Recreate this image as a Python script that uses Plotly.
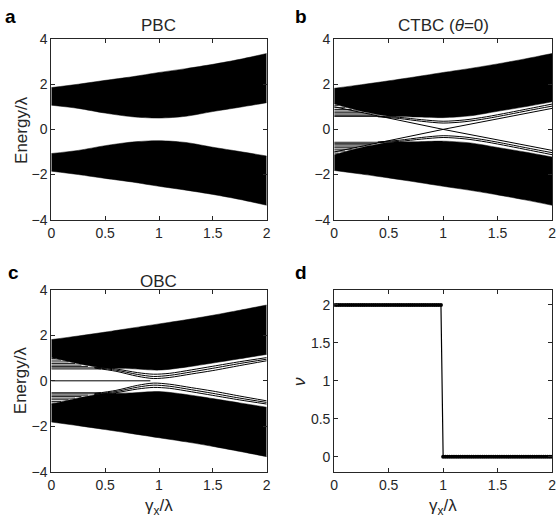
import plotly.graph_objects as go

# ---------------- data ----------------
GRID = [0.0, 0.25, 0.5, 0.75, 1.0, 1.25, 1.5, 1.75, 2.0]

# (a) PBC band envelopes
pbc_up_top = [1.85, 2.0, 2.17, 2.33, 2.52, 2.69, 2.88, 3.1, 3.36]
pbc_up_bot = [1.07, 0.93, 0.72, 0.56, 0.5, 0.58, 0.79, 0.98, 1.18]
pbc_lo_top = [-1.07, -0.93, -0.72, -0.56, -0.5, -0.58, -0.79, -0.98, -1.18]
pbc_lo_bot = [-1.85, -2.0, -2.17, -2.33, -2.52, -2.69, -2.88, -3.1, -3.36]

# (b) CTBC band envelopes
ctbc_up_top = [1.82, 1.98, 2.15, 2.33, 2.52, 2.7, 2.9, 3.12, 3.36]
ctbc_up_bot = [1.12, 0.8, 0.58, 0.55, 0.52, 0.6, 0.8, 1.0, 1.22]
ctbc_lo_top = [-1.12, -0.8, -0.58, -0.55, -0.52, -0.6, -0.8, -1.0, -1.22]
ctbc_lo_bot = [-1.82, -1.98, -2.15, -2.33, -2.52, -2.7, -2.9, -3.12, -3.36]
# (b) in-gap states: flat levels (energy, x where they meet the bulk)
ctbc_edge_E = [0.57, 0.62, 0.68, 0.74, 0.81, 0.88, 0.96, 1.05]
ctbc_edge_end = [0.46, 0.39, 0.33, 0.27, 0.21, 0.16, 0.1, 0.04]
ctbc_curve_x = [0.4, 0.6, 0.8, 1.0, 1.2, 1.4, 1.6, 1.8, 2.0]
ctbc_h1 = [0.58, 0.53, 0.43, 0.36, 0.42, 0.56, 0.74, 0.93, 1.12]
ctbc_h2 = [0.56, 0.48, 0.36, 0.28, 0.34, 0.48, 0.66, 0.85, 1.03]
ctbc_h3 = [-0.58, -0.53, -0.43, -0.36, -0.42, -0.56, -0.74, -0.93, -1.12]
ctbc_h4 = [-0.56, -0.48, -0.36, -0.28, -0.34, -0.48, -0.66, -0.85, -1.03]
ctbc_cross_x = [0.0, 1.0, 2.0]
ctbc_cross_down = [1.0, 0.0, -0.93]
ctbc_cross_up = [-1.0, 0.0, 0.93]

# (c) OBC band envelopes
obc_up_top = [1.81, 1.97, 2.14, 2.32, 2.5, 2.68, 2.88, 3.1, 3.33]
obc_up_bot = [1.02, 0.75, 0.56, 0.53, 0.47, 0.6, 0.78, 0.97, 1.16]
obc_lo_top = [-1.02, -0.75, -0.56, -0.53, -0.47, -0.6, -0.78, -0.97, -1.16]
obc_lo_bot = [-1.81, -1.97, -2.14, -2.32, -2.5, -2.68, -2.88, -3.1, -3.33]
# (c) in-gap states
obc_edge_E = [0.52, 0.57, 0.63, 0.69, 0.76, 0.83, 0.91, 0.98]
obc_edge_end = [0.46, 0.4, 0.34, 0.28, 0.22, 0.16, 0.09, 0.04]
obc_zero_x = [0.0, 0.92]
obc_zero_E = [0.0, 0.0]
obc_curve_x = [0.4, 0.6, 0.8, 0.95, 1.1, 1.3, 1.5, 1.75, 2.0]
obc_l1 = [0.56, 0.42, 0.2, 0.1, 0.15, 0.3, 0.45, 0.67, 0.88]
obc_l2 = [0.58, 0.47, 0.28, 0.19, 0.24, 0.39, 0.55, 0.76, 0.95]
obc_l3 = [0.6, 0.52, 0.36, 0.29, 0.33, 0.48, 0.64, 0.84, 1.02]
obc_l4 = [-0.56, -0.42, -0.2, -0.1, -0.15, -0.3, -0.45, -0.67, -0.88]
obc_l5 = [-0.58, -0.47, -0.28, -0.19, -0.24, -0.39, -0.55, -0.76, -0.95]
obc_l6 = [-0.6, -0.52, -0.36, -0.29, -0.33, -0.48, -0.64, -0.84, -1.02]

# (d) winding number
gamma_d = [round(i * 0.02, 2) for i in range(101)]
nu_d = [2] * 50 + [0] * 51

X_TICKS = [0, 0.5, 1, 1.5, 2]
X_TICKTEXT = ["0", "0.5", "1", "1.5", "2"]
E_TICKS = [-4, -2, 0, 2, 4]
NU_TICKS = [0, 0.5, 1, 1.5, 2]

# ---------------- figure ----------------
AX = "#262626"
FONT = "Liberation Sans, Arial, sans-serif"
fig = go.Figure()


def band(xa, ya, top, bot):
    fig.add_trace(go.Scatter(x=GRID, y=bot, mode="lines", line=dict(color="black", width=0.5, shape="spline", smoothing=0.8),
                             xaxis=xa, yaxis=ya, showlegend=False, hoverinfo="skip"))
    fig.add_trace(go.Scatter(x=GRID, y=top, mode="lines", line=dict(color="black", width=0.5, shape="spline", smoothing=0.8),
                             fill="tonexty", fillcolor="black",
                             xaxis=xa, yaxis=ya, showlegend=False, hoverinfo="skip"))


def line(xa, ya, xs, ys, w=1.0, color="black", shape="spline"):
    fig.add_trace(go.Scatter(x=xs, y=ys, mode="lines", line=dict(color=color, width=w, shape=shape, smoothing=0.8),
                             xaxis=xa, yaxis=ya, showlegend=False, hoverinfo="skip"))


def flat_levels(xa, ya, energies, ends):
    for e, xe in zip(energies, ends):
        line(xa, ya, [0.0, xe], [e, e], w=0.9, color="#111", shape="linear")
        line(xa, ya, [0.0, xe], [-e, -e], w=0.9, color="#111", shape="linear")


# (a)
band("x", "y", pbc_up_top, pbc_up_bot)
band("x", "y", pbc_lo_top, pbc_lo_bot)

# (b)
band("x2", "y2", ctbc_up_top, ctbc_up_bot)
band("x2", "y2", ctbc_lo_top, ctbc_lo_bot)
flat_levels("x2", "y2", ctbc_edge_E, ctbc_edge_end)
for c in (ctbc_h1, ctbc_h2, ctbc_h3, ctbc_h4):
    line("x2", "y2", ctbc_curve_x, c)
line("x2", "y2", ctbc_cross_x, ctbc_cross_down, shape="linear")
line("x2", "y2", ctbc_cross_x, ctbc_cross_up, shape="linear")

# (c)
band("x3", "y3", obc_up_top, obc_up_bot)
band("x3", "y3", obc_lo_top, obc_lo_bot)
flat_levels("x3", "y3", obc_edge_E, obc_edge_end)
line("x3", "y3", obc_zero_x, obc_zero_E, shape="linear")
for c in (obc_l1, obc_l2, obc_l3, obc_l4, obc_l5, obc_l6):
    line("x3", "y3", obc_curve_x, c)

# (d)
fig.add_trace(go.Scatter(x=gamma_d, y=nu_d, mode="lines+markers",
                         line=dict(color="black", width=1.2),
                         marker=dict(color="black", size=4),
                         xaxis="x4", yaxis="y4", showlegend=False))

dom_x_l = [48 / 560, 266.5 / 560]
dom_x_r = [335 / 560, 556 / 560]
dom_y_t = [1 - 218.3 / 531, 1 - 32 / 531]
dom_y_b = [1 - 478.3 / 531, 1 - 290.5 / 531]

axcommon = dict(showline=True, linecolor=AX, linewidth=1, mirror="ticks", ticks="inside",
                ticklen=4, tickcolor=AX, showgrid=False, zeroline=False, ticklabeloverflow="allow",
                tickfont=dict(family=FONT, size=14, color=AX))

lay = dict(
    width=560, height=531, margin=dict(l=0, r=0, t=0, b=0),
    paper_bgcolor="white", plot_bgcolor="white", showlegend=False,
    font=dict(family=FONT, color=AX),
    xaxis=dict(domain=dom_x_l, anchor="y", range=[0, 2], tickvals=X_TICKS, ticktext=X_TICKTEXT, **axcommon),
    yaxis=dict(domain=dom_y_t, anchor="x", range=[-4, 4], tickvals=E_TICKS, **axcommon),
    xaxis2=dict(domain=dom_x_r, anchor="y2", range=[0, 2], tickvals=X_TICKS, ticktext=X_TICKTEXT, **axcommon),
    yaxis2=dict(domain=dom_y_t, anchor="x2", range=[-4, 4], tickvals=E_TICKS, **axcommon),
    xaxis3=dict(domain=dom_x_l, anchor="y3", range=[0, 2], tickvals=X_TICKS, ticktext=X_TICKTEXT, **axcommon),
    yaxis3=dict(domain=dom_y_b, anchor="x3", range=[-4, 4], tickvals=E_TICKS, **axcommon),
    xaxis4=dict(domain=dom_x_r, anchor="y4", range=[0, 2], tickvals=X_TICKS, ticktext=X_TICKTEXT, **axcommon),
    yaxis4=dict(domain=dom_y_b, anchor="x4", range=[-0.2, 2.2], tickvals=NU_TICKS,
                ticktext=["0", "0.5", "1", "1.5", "2"], **axcommon),
)
fig.update_layout(**lay)


def ann(text, x, y, size, bold=False, angle=0):
    fig.add_annotation(text=("<b>%s</b>" % text) if bold else text, x=x / 560, y=1 - y / 531,
                       xref="paper", yref="paper", showarrow=False, xanchor="center", yanchor="middle",
                       textangle=angle, font=dict(family=FONT, size=size, color="black" if bold else AX))


ann("a", 7, 9, 19, bold=True)
ann("b", 301, 9, 19, bold=True)
ann("c", 10, 273, 19, bold=True)
ann("d", 301, 273, 19, bold=True)
ann("PBC", 157, 18, 17)
ann("CTBC (<i>θ</i>=0)", 445.5, 18, 17)
ann("OBC", 157, 282, 17)
ann("Energy/λ", 17, 126, 17, angle=-90)
ann("Energy/λ", 17, 384, 17, angle=-90)
ann("<i>ν</i>", 300, 385, 17, angle=-90)
ann("γ<sub>x</sub>/λ", 157, 514, 17)
ann("γ<sub>x</sub>/λ", 445.5, 514, 17)

fig.write_html("out.html", config={"displayModeBar": False},
               post_script="document.body.style.margin='0';document.body.style.padding='0';")
